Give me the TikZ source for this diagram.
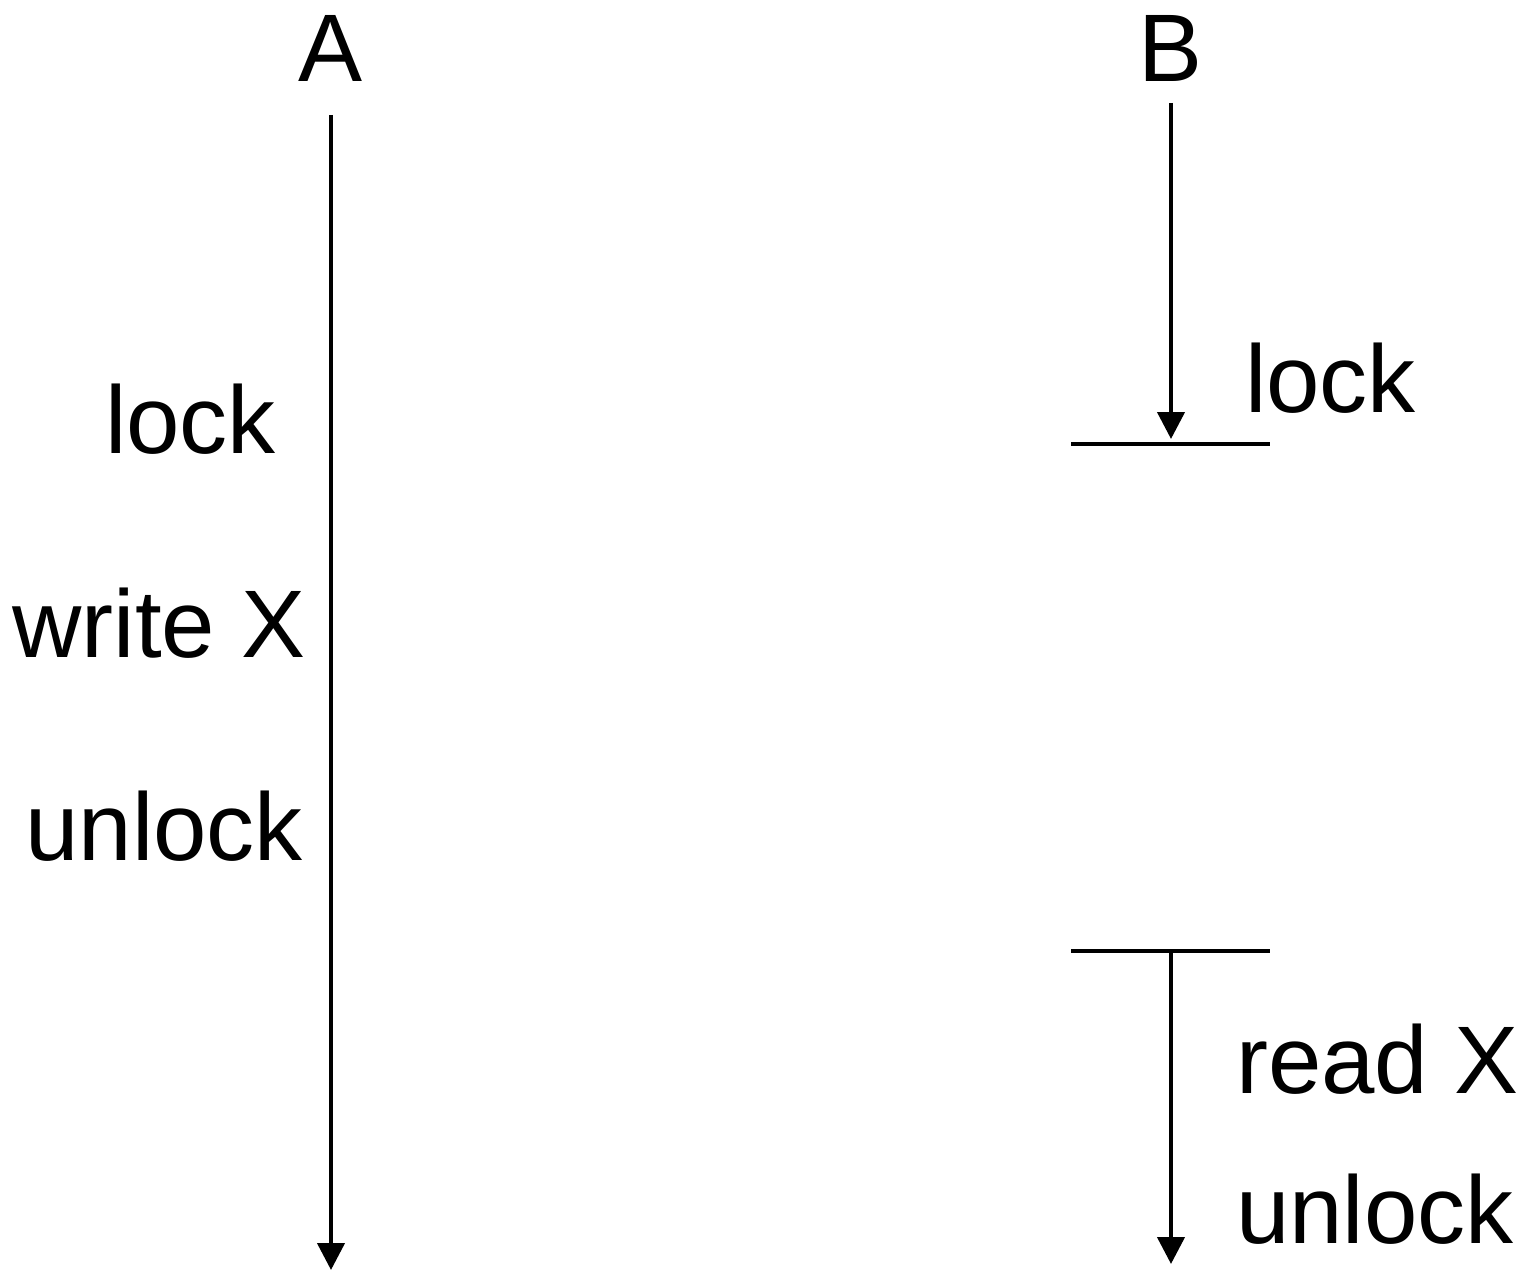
\documentclass[tikz,border=0pt]{standalone}
\usepackage{fontspec}
\setmainfont{Liberation Sans}
\usetikzlibrary{arrows.meta}
\begin{document}
\begin{tikzpicture}[x=1pt,y=-1pt,
  lbl/.style={inner sep=0pt, font=\fontsize{96}{115}\selectfont},
  tline/.style={line width=4.3pt},
  tarrow/.style={line width=4.3pt, -{Triangle[width=27pt,length=27pt]}}]
\useasboundingbox (0,0) rectangle (1534,1271);
% headers
\node[lbl, anchor=base] (A) at (331,82) {A};
\node[lbl, anchor=base] (B) at (1171,82) {B};
% A timeline
\coordinate (a0) at (331,115);
\coordinate (a1) at (331,1270);
\draw[tarrow] (a0) -- (a1);
\node[lbl, anchor=base east] (alock) at (276,453) {lock};
\node[lbl, anchor=base east] (awrite) at (306,657) {write X};
\node[lbl, anchor=base east] (aunlock) at (303,860) {unlock};
% B timeline
\coordinate (b0) at (1171,103);
\coordinate (b1) at (1171,439);
\draw[tarrow] (b0) -- (b1);
\coordinate (h1l) at (1071,444);
\coordinate (h1r) at (1270,444);
\draw[tline] (h1l) -- (h1r);
\node[lbl, anchor=base west] (block) at (1245,412) {lock};
\coordinate (h2l) at (1071,951);
\coordinate (h2r) at (1270,951);
\draw[tline] (h2l) -- (h2r);
\coordinate (b2) at (1171,951);
\coordinate (b3) at (1171,1264);
\draw[tarrow] (b2) -- (b3);
\node[lbl, anchor=base west] (bread) at (1236,1093) {read X};
\node[lbl, anchor=base west] (bunlock) at (1236,1243) {unlock};
\end{tikzpicture}
\end{document}
